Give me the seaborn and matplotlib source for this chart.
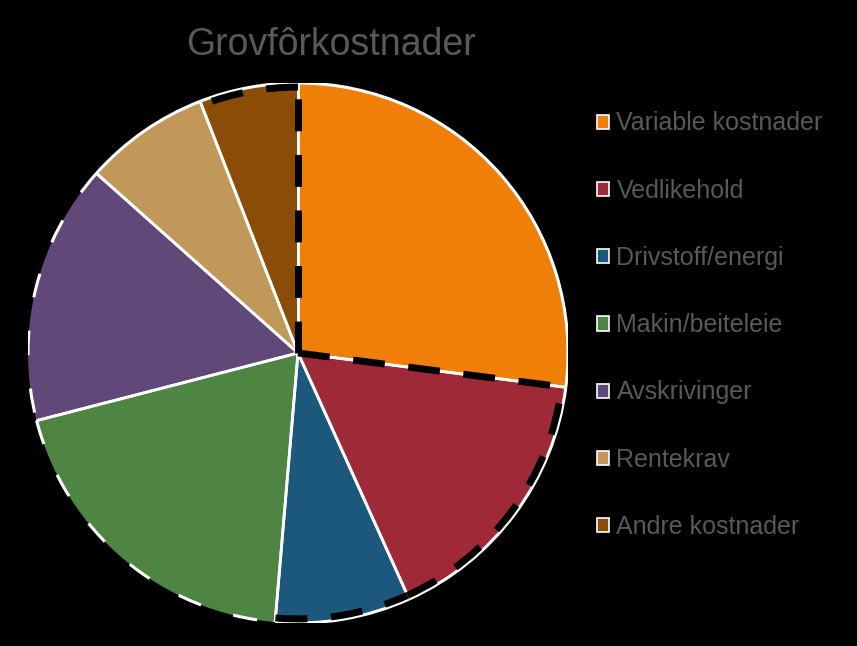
import matplotlib
matplotlib.use("Agg")
import numpy as np
import matplotlib.pyplot as plt
import seaborn as sns
from matplotlib.patches import Patch, Arc

sns.set_style("white")
plt.rcParams['font.family'] = ['Liberation Sans', 'DejaVu Sans']

categories = ["Variable kostnader", "Vedlikehold", "Drivstoff/energi",
              "Makin/beiteleie", "Avskrivinger", "Rentekrav", "Andre kostnader"]
values = [27.0, 16.2, 8.1, 19.6, 15.6, 7.5, 5.9]
colors = ["#F07F09", "#9F2936", "#1B587C", "#4E8542", "#604878", "#C19859", "#8B4C07"]
white_dashed_arc = ["Makin/beiteleie", "Avskrivinger"]
black_dashed_arc = ["Vedlikehold", "Drivstoff/energi", "Andre kostnader"]
black_dashed_sides = ["Variable kostnader"]

W, H = 857, 646
fig = plt.figure(figsize=(W / 100, H / 100), dpi=100, facecolor="black")
cx, cy, r = 298, 353, 270
ax = fig.add_axes([(cx - r) / W, (H - cy - r) / H, 2 * r / W, 2 * r / H])
ax.set_facecolor("black")

wedges, _ = ax.pie(values, colors=colors, startangle=90, counterclock=False,
                   radius=1.0, wedgeprops=dict(edgecolor="none", linewidth=0))

black_ls = (0, (4.6, 3.4))
inset = 0.985

def edge_point(w, ang):
    a = np.deg2rad(ang)
    return w.center[0] + w.r * np.cos(a), w.center[1] + w.r * np.sin(a)

# white radial edges and arcs
for w, c in zip(wedges, categories):
    for ang in (w.theta1, w.theta2):
        x, y = edge_point(w, ang)
        ax.plot([w.center[0], x], [w.center[1], y], color="white", lw=2,
                solid_capstyle="butt", zorder=3)
    ls = (0, (8, 11)) if c in white_dashed_arc else "-"
    ax.add_patch(Arc(w.center, 2 * w.r, 2 * w.r, theta1=w.theta1, theta2=w.theta2,
                     color="white", lw=2.2, linestyle=ls, zorder=3))

# black dashed outline parts
for w, c in zip(wedges, categories):
    if c in black_dashed_arc:
        ax.add_patch(Arc(w.center, 2 * w.r * inset, 2 * w.r * inset,
                         theta1=w.theta1, theta2=w.theta2,
                         color="black", lw=5, linestyle=black_ls, zorder=4))
    if c in black_dashed_sides:
        for ang in (w.theta1, w.theta2):
            x, y = edge_point(w, ang)
            ax.plot([w.center[0], x], [w.center[1], y], color="black", lw=5,
                    linestyle=black_ls, dash_capstyle="butt", zorder=4)

ax.set_xlim(-1.0, 1.0)
ax.set_ylim(-1.0, 1.0)
ax.axis("off")

fig.text(331 / W, 1 - 45 / H, "Grovfôrkostnader", ha="center", va="center",
         fontsize=27, color="#595959")

handles = [Patch(facecolor=col, edgecolor="white", linewidth=1.2) for col in colors]
leg = fig.legend(handles, categories, loc="upper left",
                 bbox_to_anchor=(574 / W, 1 - 89 / H), frameon=False,
                 fontsize=18, labelcolor="#595959", handlelength=0.5,
                 handleheight=0.5, handletextpad=0.3, labelspacing=1.73)

fig.savefig("out.png", dpi=100, facecolor="black")
